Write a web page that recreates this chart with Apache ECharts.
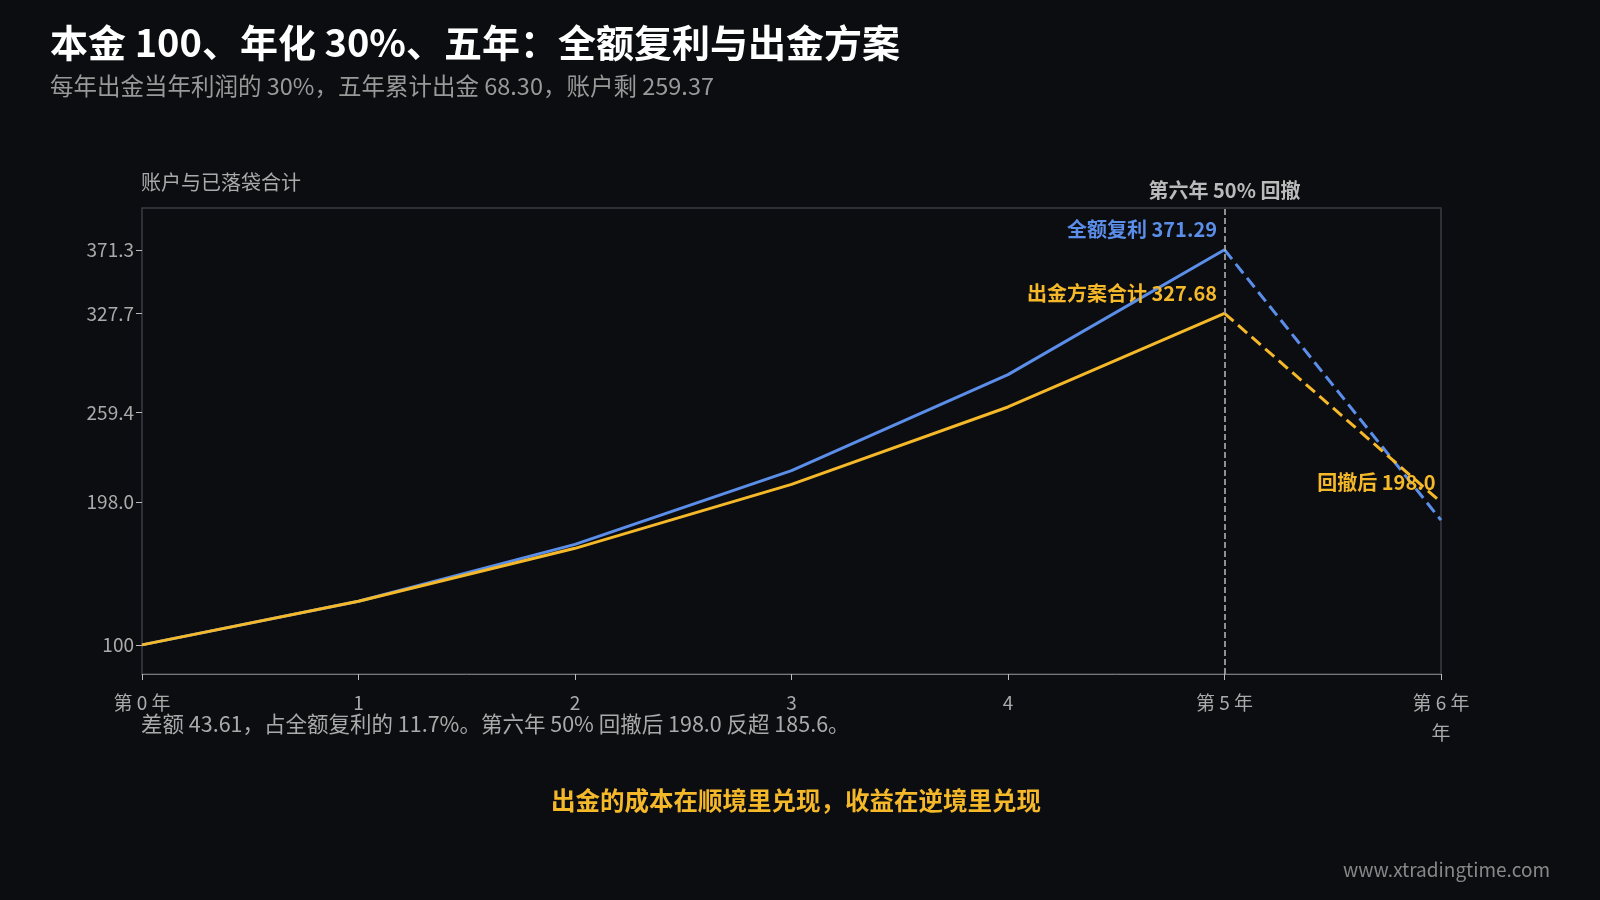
<!DOCTYPE html>
<html><head><meta charset="utf-8">
<script src="https://cdn.jsdelivr.net/npm/echarts@6/dist/echarts.min.js"></script>
<style>html,body{margin:0;background:#0c0d11}#c{width:1600px;height:900px}</style>
</head><body><div id="c"></div>
<script>
const categories=['第 0 年','1','2','3','4','第 5 年','第 6 年\n年'];
const fullComp=[100,130,169,219.7,285.61,371.29,null];
const fullCompDrop=[null,null,null,null,null,371.29,185.645];
const planTotal=[100,130,166.3,210.23,263.37,327.68,null];
const planDrop=[null,null,null,null,null,327.68,198.0];
const yTicks=[100,198.0,259.4,327.7,371.3];
const blue='#5b8ee8',yellow='#f4b829';
const F='"Noto Sans CJK SC","Noto Sans",sans-serif';
const chart=echarts.init(document.getElementById('c'));
const lbl=(text,color,pos,off)=>({show:true,formatter:text,color:color,fontSize:20,fontWeight:'bold',fontFamily:F,position:pos,offset:off});
chart.setOption({
backgroundColor:'#0c0d11',animation:false,
grid:{left:142,right:159,top:208,bottom:226,show:true,borderColor:'#3a3c44',borderWidth:1.5},
xAxis:{type:'category',data:categories,boundaryGap:false,
 axisLine:{lineStyle:{color:'#777'}},axisTick:{show:true,lineStyle:{color:'#bbb'},length:6},
 axisLabel:{color:'#aaa',fontSize:19,fontFamily:F,margin:14,lineHeight:30},splitLine:{show:false}},
yAxis:{type:'value',min:80,max:400,
 axisLine:{show:false},axisTick:{show:true,customValues:yTicks,lineStyle:{color:'#bbb'},length:6},
 axisLabel:{color:'#aaa',fontSize:19,fontFamily:F,customValues:yTicks,formatter:v=>v===100?'100':v.toFixed(1)},
 splitLine:{show:false}},
series:[
{type:'line',data:fullComp,symbol:'none',lineStyle:{color:blue,width:3},
 markLine:{symbol:'none',silent:true,lineStyle:{color:'#bbb',type:'dashed',width:1.5},
  label:{show:true,position:'end',formatter:'第六年 50% 回撤',color:'#bbb',fontSize:20,fontFamily:F,fontWeight:'bold',distance:8},
  data:[[{xAxis:5,yAxis:80},{xAxis:5,yAxis:400}]]},
 markPoint:{symbol:'circle',symbolSize:1,itemStyle:{color:'transparent'},
  data:[{coord:[5,371.29],label:lbl('全额复利 371.29',blue,'left',[-2,-20])}]}},
{type:'line',data:fullCompDrop,symbol:'none',lineStyle:{color:blue,width:3,type:'dashed'}},
{type:'line',data:planTotal,symbol:'none',lineStyle:{color:yellow,width:3},
 markPoint:{symbol:'circle',symbolSize:1,itemStyle:{color:'transparent'},
  data:[{coord:[5,327.68],label:lbl('出金方案合计 327.68',yellow,'left',[-2,-20])}]}},
{type:'line',data:planDrop,symbol:'none',lineStyle:{color:yellow,width:3,type:'dashed'},
 markPoint:{symbol:'circle',symbolSize:1,itemStyle:{color:'transparent'},
  data:[{coord:[6,198.0],label:lbl('回撤后 198.0',yellow,'left',[0,-20])}]}}
],
graphic:[
{type:'text',left:50,top:24,style:{text:'本金 100、年化 30%、五年：全额复利与出金方案',fill:'#fff',font:'bold 38px '+F}},
{type:'text',left:50,top:74,style:{text:'每年出金当年利润的 30%，五年累计出金 68.30，账户剩 259.37',fill:'#999',font:'23.5px '+F}},
{type:'text',left:141,top:172,style:{text:'账户与已落袋合计',fill:'#aaa',font:'20px '+F}},
{type:'text',left:141,top:713,style:{text:'差额 43.61，占全额复利的 11.7%。第六年 50% 回撤后 198.0 反超 185.6。',fill:'#aaa',font:'21.5px '+F}},
{type:'text',left:551,top:788,style:{text:'出金的成本在顺境里兑现，收益在逆境里兑现',fill:yellow,font:'bold 24.5px '+F}},
{type:'text',right:50,top:860,style:{text:'www.xtradingtime.com',fill:'#888',font:'19px '+F}}
]});
</script></body></html>
